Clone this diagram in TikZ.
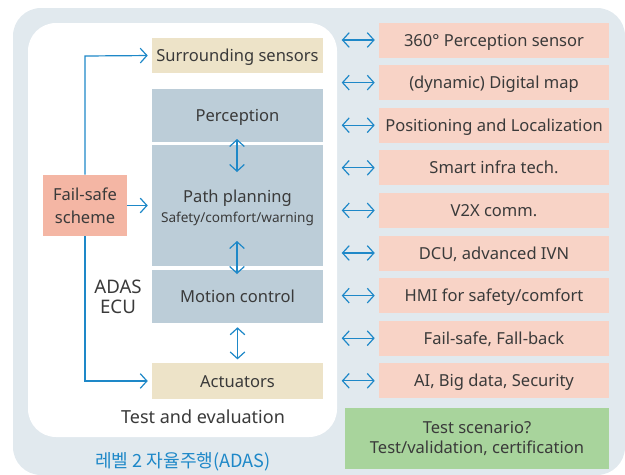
\documentclass[tikz,border=0pt]{standalone}
\usepackage{fontspec}
\setmainfont{Noto Sans}
\newfontfamily\krfont{Noto Sans CJK KR}
\usetikzlibrary{arrows.meta}
\definecolor{bgpanel}{HTML}{E1E9EE}
\definecolor{beige}{HTML}{EDE3C8}
\definecolor{steel}{HTML}{BCCDD8}
\definecolor{salmon}{HTML}{F4B6A4}
\definecolor{pinkbox}{HTML}{F8D3C6}
\definecolor{greenbox}{HTML}{A8D49C}
\definecolor{arrowblue}{HTML}{1E88C8}
\definecolor{txt}{HTML}{3A3A3A}
\tikzset{
  box/.style={inner sep=0pt, align=center, text=txt, font=\fontsize{12.4}{15}\selectfont},
  one/.style={text height=0.9em, text depth=0pt},
  lbox/.style={box, minimum width=128.25pt},
  rbox/.style={box, one, fill=pinkbox, minimum width=172.5pt, minimum height=26.25pt},
  conn/.style={draw=arrowblue, line width=0.9pt, -{Straight Barb[length=5pt,width=11pt,line width=0.9pt]}},
  dbl/.style={draw=arrowblue, line width=0.9pt, {Straight Barb[length=5pt,width=11pt,line width=0.9pt]}-{Straight Barb[length=5pt,width=11pt,line width=0.9pt]}},
  plain/.style={text=txt, inner sep=0pt, align=center}
}
\begin{document}
\begin{tikzpicture}[x=0.75pt,y=-0.75pt]
\useasboundingbox (0,0) rectangle (625,475);
\fill[bgpanel, rounded corners=21pt] (13,8) rectangle (625,475);
\fill[white, rounded corners=21pt] (28,23) rectangle (337,437);

% left column
\node[lbox, one, fill=beige, minimum height=26.25pt] (surr) at (237.5,55.5) {Surrounding sensors};
\node[lbox, one, fill=steel, minimum height=39.75pt] (perc) at (237.5,115.5) {Perception};
\node[lbox, fill=steel, minimum height=90.75pt] (path) at (237.5,205.5) {\begin{tabular}{@{}c@{}}\rule{0pt}{15.5pt}Path planning\\[0pt]{\fontsize{10.2}{12}\selectfont Safety/comfort/warning}\end{tabular}};
\node[lbox, one, fill=steel, minimum height=39.75pt] (motion) at (237.5,296.5) {Motion control};
\node[lbox, one, fill=beige, minimum height=27pt] (act) at (237.5,381) {Actuators};
\node[box, fill=salmon, minimum width=63pt, minimum height=45.75pt, font=\fontsize{12.4}{17}\selectfont] (fs) at (85,205.5) {Fail-safe\\scheme};

\node[plain, font=\fontsize{14}{15}\selectfont] (ecu) at (118,297) {ADAS\\ECU};
\node[plain, one, font=\fontsize{13.5}{15}\selectfont] (te) at (203,417) {Test and evaluation};
\node[plain, one, text=arrowblue, font=\krfont\fontsize{13.6}{15}\selectfont] (lvl) at (183,461) {레벨 2 자율주행(ADAS)};

% fail-safe connectors
\coordinate (fsup) at (85,56);
\coordinate (fsdn) at (85,381);
\draw[conn, shorten >=3pt] (fs.north) -- (fsup) -- (surr.west);
\draw[conn, shorten >=3pt] (fs.south) -- (fsdn) -- (act.west);
\draw[conn, shorten >=3pt] (fs.east) -- (path.west |- fs.east);

% vertical double arrows
\coordinate (v1a) at (237,139); \coordinate (v1b) at (237,172);
\coordinate (v2a) at (237,241); \coordinate (v2b) at (237,274);
\draw[dbl] (v1a) -- (v1b);
\draw[dbl] (v2a) -- (v2b);
\draw[dbl, shorten <=3pt, shorten >=2.5pt] (motion.south) -- (act.north);

% right column
\node[rbox] (r1) at (494,40) {360° Perception sensor};
\node[rbox] (r2) at (494,82.6) {(dynamic) Digital map};
\node[rbox] (r3) at (494,125.2) {Positioning and Localization};
\node[rbox] (r4) at (494,167.8) {Smart infra tech.};
\node[rbox] (r5) at (494,210.4) {V2X comm.};
\node[rbox] (r6) at (494,253) {DCU, advanced IVN};
\node[rbox] (r7) at (494,295.6) {HMI for safety/comfort};
\node[rbox] (r8) at (494,338.2) {Fail-safe, Fall-back};
\node[rbox] (r9) at (494,380.8) {AI, Big data, Security};
\node[box, fill=greenbox, minimum width=198pt, minimum height=45.75pt, font=\fontsize{12.4}{15}\selectfont] (green) at (477,438) {Test scenario?\\Test/validation, certification};

\foreach \i in {1,...,9} {
  \draw[dbl] ([xshift=-3pt]r\i.west) -- ++(-24.75pt,0);
}
\end{tikzpicture}
\end{document}
